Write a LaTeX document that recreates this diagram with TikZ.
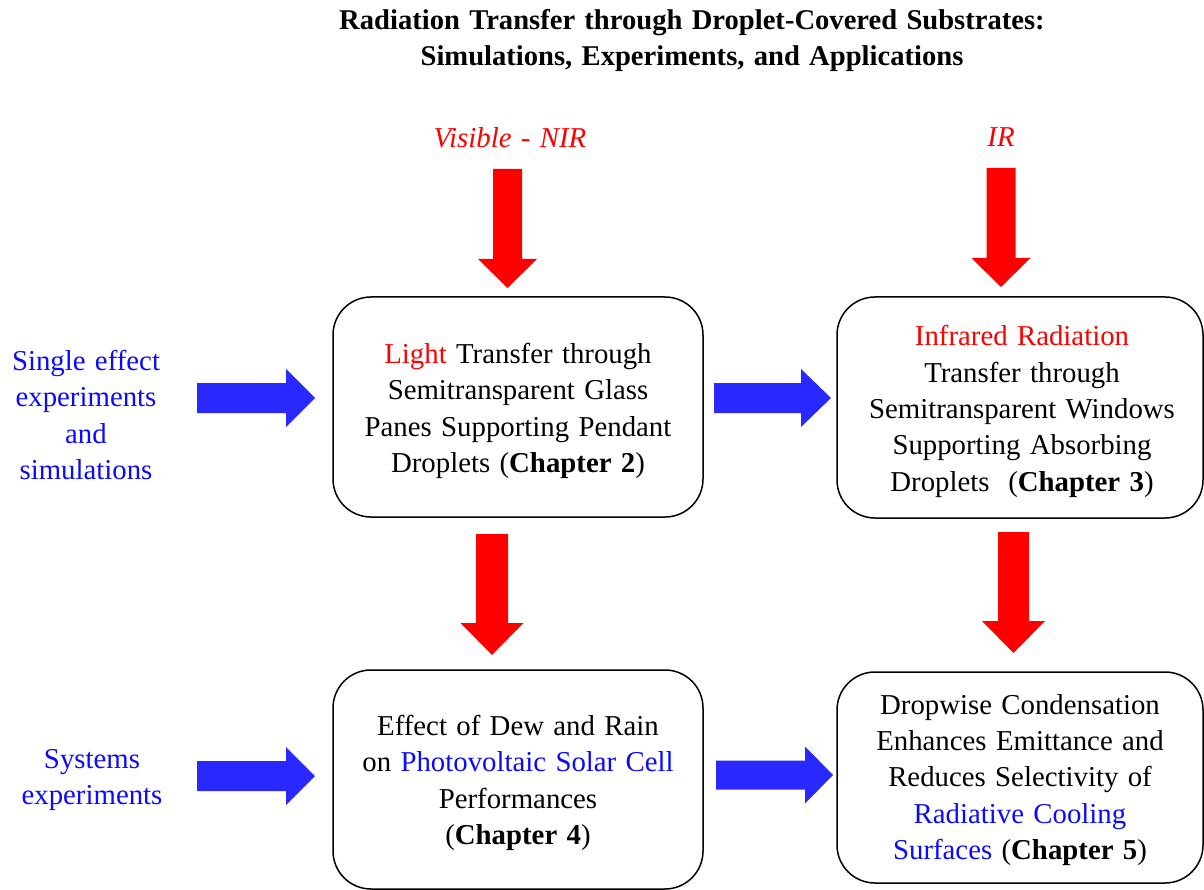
\documentclass[tikz,border=0pt]{standalone}
\usepackage{fontspec}
\setmainfont{Liberation Serif}[WordSpace=1.3]
\usetikzlibrary{calc}
\definecolor{arrred}{RGB}{255,0,0}
\definecolor{arrblue}{RGB}{40,40,255}
\definecolor{txtblue}{RGB}{10,10,255}
\definecolor{txtred}{RGB}{255,0,0}
\newcommand{\hblock}[6]{\fill[#6] ($(#1)+(0,#3)$) -- ($(#2)+(-#5,#3)$) -- ($(#2)+(-#5,#4)$) -- (#2) -- ($(#2)+(-#5,-#4)$) -- ($(#2)+(-#5,-#3)$) -- ($(#1)+(0,-#3)$) -- cycle;}
\newcommand{\vblock}[6]{\fill[#6] ($(#1)+(#3,0)$) -- ($(#2)+(#3,-#5)$) -- ($(#2)+(#4,-#5)$) -- (#2) -- ($(#2)+(-#4,-#5)$) -- ($(#2)+(-#3,-#5)$) -- ($(#1)+(-#3,0)$) -- cycle;}
\tikzset{
  txt/.style={inner sep=0pt, align=center, font=\fontsize{28.8}{36.3}\selectfont},
  chapbox/.style={draw=black, line width=1.5pt, rounded corners=38pt, inner sep=0pt},
}
\begin{document}
\begin{tikzpicture}[x=1pt,y=-1pt]
\useasboundingbox (0,0) rectangle (1204,890);
% title
\node[txt, align=center, font=\fontsize{28.6}{36}\selectfont\bfseries] (title) at (692,40)
  {Radiation Transfer through Droplet-Covered Substrates:\\Simulations, Experiments, and Applications};
% spectral labels
\node[txt, text=txtred, font=\fontsize{28.8}{36}\selectfont\itshape] (vis) at (510,138) {Visible - NIR};
\node[txt, text=txtred, font=\fontsize{28.8}{36}\selectfont\itshape] (ir) at (1001,137) {IR};
% side labels
\node[txt, text=txtblue] (single) at (86,415) {Single effect\\experiments\\and\\simulations};
\node[txt, text=txtblue] (systems) at (92,780) {Systems\\experiments};
% boxes
\node[chapbox, minimum width=370, minimum height=220] (c2) at (518,407) {};
\node[chapbox, minimum width=366, minimum height=221] (c3) at (1020,407.5) {};
\node[chapbox, minimum width=370, minimum height=219] (c4) at (518,779.5) {};
\node[chapbox, minimum width=366, minimum height=211] (c5) at (1020,777.5) {};
% box texts
\node[txt] (c2t) at ($(c2.center)+(0,4)$)
  {\textcolor{txtred}{Light} Transfer through\\Semitransparent Glass\\Panes Supporting Pendant\\Droplets ({\bfseries Chapter 2})};
\node[txt] (c3t) at ($(c3.center)+(2,4)$)
  {\textcolor{txtred}{Infrared Radiation}\\Transfer through\\Semitransparent Windows\\Supporting Absorbing\\Droplets\ \ ({\bfseries Chapter 3})};
\node[txt] (c4t) at ($(c4.center)+(0,3.5)$)
  {Effect of Dew and Rain\\on \textcolor{txtblue}{Photovoltaic Solar Cell}\\Performances\\({\bfseries Chapter 4})};
\node[txt] (c5t) at ($(c5.center)+(0,2.5)$)
  {Dropwise Condensation\\Enhances Emittance and\\Reduces Selectivity of\\\textcolor{txtblue}{Radiative Cooling}\\\textcolor{txtblue}{Surfaces} ({\bfseries Chapter 5})};
% arrow anchors
\coordinate (r1s) at (507.5,169); \coordinate (r1e) at (507.5,288);
\coordinate (r2s) at (1001,168);  \coordinate (r2e) at (1001,287);
\coordinate (r3s) at (492,534);   \coordinate (r3e) at (492,655);
\coordinate (r4s) at (1013.5,532);\coordinate (r4e) at (1013.5,653);
\coordinate (b1s) at (197,398);   \coordinate (b1e) at (315,398);
\coordinate (b2s) at (714,398);   \coordinate (b2e) at (831,398);
\coordinate (b3s) at (197,776);   \coordinate (b3e) at (315,776);
\coordinate (b4s) at (716,775);   \coordinate (b4e) at (833,775);
% red arrows
\vblock{r1s}{r1e}{14.5}{29.5}{29}{arrred}
\vblock{r2s}{r2e}{14.5}{29.5}{29}{arrred}
\vblock{r3s}{r3e}{16}{31.5}{32}{arrred}
\vblock{r4s}{r4e}{15.5}{31.5}{32}{arrred}
% blue arrows
\hblock{b1s}{b1e}{15}{29}{29}{arrblue}
\hblock{b2s}{b2e}{15}{29}{30}{arrblue}
\hblock{b3s}{b3e}{15}{29}{29}{arrblue}
\hblock{b4s}{b4e}{14.5}{28.5}{28}{arrblue}
\end{tikzpicture}
\end{document}
